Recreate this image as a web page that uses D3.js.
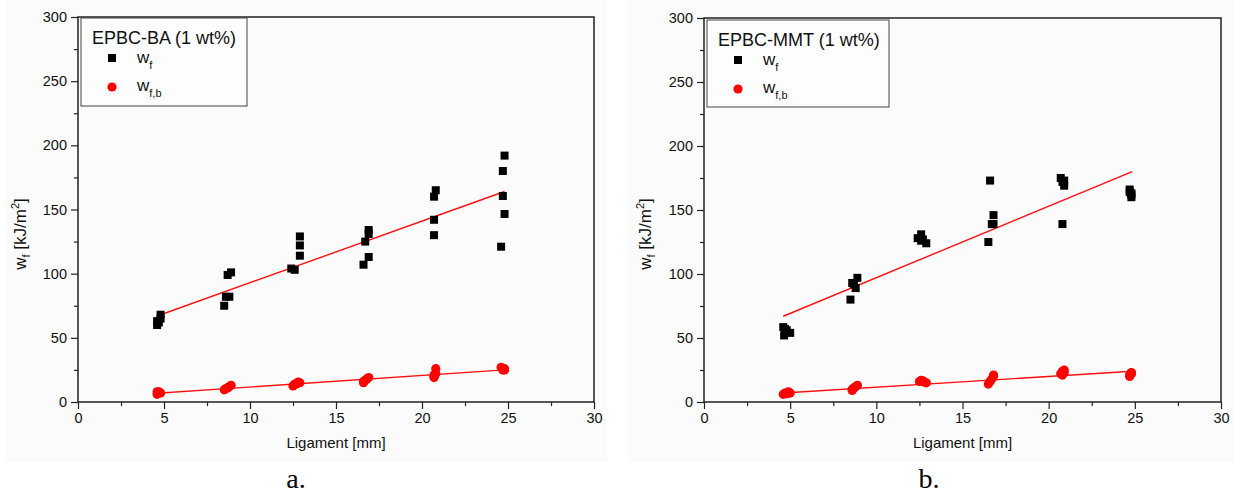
<!DOCTYPE html>
<html>
<head>
<meta charset="utf-8">
<script src="https://cdn.jsdelivr.net/npm/d3@7"></script>
<style>
  html, body { margin: 0; padding: 0; background: #ffffff; }
  svg { display: block; }
</style>
</head>
<body>
<svg id="chart" width="1234" height="493"></svg>
<script>
// ---------- DATA ----------
const xTicks = [0, 5, 10, 15, 20, 25, 30];
const xMinorTicks = [2.5, 7.5, 12.5, 17.5, 22.5, 27.5];
const yTicks = [0, 50, 100, 150, 200, 250, 300];
const yMinorTicks = [25, 75, 125, 175, 225, 275];

const panelTitles = ["EPBC-BA (1 wt%)", "EPBC-MMT (1 wt%)"];
const panelLabels = ["a.", "b."];

// Panel a: EPBC-BA
const aWfX  = [4.6, 4.7, 4.6, 4.8, 4.8, 8.5, 8.6, 8.8, 8.7, 8.9, 12.4, 12.6, 12.9, 12.9, 12.9, 16.6, 16.9, 16.7, 16.9, 16.9, 20.7, 20.7, 20.7, 20.8, 24.8, 24.7, 24.7, 24.8, 24.6];
const aWfY  = [60, 62, 63, 65, 68, 75, 82, 82, 99, 101, 104, 103, 114, 122, 129, 107, 113, 125, 131, 134, 130, 142, 160, 165, 192, 180, 160.5, 146.5, 121];
const aWfbX = [4.6, 4.7, 4.8, 4.6, 4.7, 8.5, 8.6, 8.7, 8.8, 8.9, 12.5, 12.6, 12.7, 12.8, 12.9, 16.6, 16.6, 16.7, 16.8, 16.9, 20.7, 20.7, 20.7, 20.8, 20.8, 24.6, 24.7, 24.7, 24.8, 24.8];
const aWfbY = [6, 7, 7, 8, 8, 9.5, 10.5, 11, 12, 13, 12.5, 14, 14, 15.5, 15, 15, 16, 17, 18, 19, 19, 20, 21, 22, 26, 27, 26, 25, 25, 26];
const aFitWfX  = [4.6, 24.8];
const aFitWfY  = [67, 164];
const aFitWfbX = [4.6, 24.8];
const aFitWfbY = [6.8, 25];

// Panel b: EPBC-MMT
const bWfX  = [4.6, 4.8, 4.65, 5.0, 4.7, 8.5, 8.6, 8.7, 8.8, 8.9, 12.4, 12.6, 12.6, 12.7, 12.9, 16.5, 16.6, 16.7, 16.8, 16.8, 20.7, 20.8, 20.8, 20.9, 20.9, 24.7, 24.7, 24.8, 24.8, 24.8];
const bWfY  = [58.5, 56, 52, 54, 57, 80, 93, 92, 89, 97, 128, 131, 126, 127, 124, 125, 173, 139, 146, 139, 175, 139, 172, 173, 169, 166, 164, 163, 162, 160];
const bWfbX = [4.6, 4.7, 4.8, 4.9, 5.0, 8.6, 8.6, 8.7, 8.8, 8.9, 12.5, 12.6, 12.7, 12.8, 12.9, 16.5, 16.6, 16.7, 16.8, 16.8, 20.7, 20.8, 20.8, 20.9, 20.9, 24.7, 24.7, 24.8, 24.8, 24.8];
const bWfbY = [6, 7, 6.5, 8, 7, 9, 10, 11, 12, 13, 16, 17, 16.5, 15.5, 15, 14, 16, 18, 20, 21, 22, 21, 24, 25, 23, 21, 20, 23, 22, 22.5];
const bFitWfX  = [4.6, 24.85];
const bFitWfY  = [67, 180];
const bFitWfbX = [4.6, 24.85];
const bFitWfbY = [7, 24];

// ---------- LAYOUT ----------
const SANS = "Arial, 'Liberation Sans', sans-serif";
const SERIF = "'Times New Roman', 'Liberation Serif', serif";
const panels = [
  { frame: { x0: 78, x1: 594, y0: 17, y1: 402 }, bg: [5, 0, 607, 462], legend: [81, 18, 247, 106], ytitleX: 26, label: [296, 488],
    title: panelTitles[0], tag: panelLabels[0],
    wf: [aWfX, aWfY], wfb: [aWfbX, aWfbY], fitWf: [aFitWfX, aFitWfY], fitWfb: [aFitWfbX, aFitWfbY] },
  { frame: { x0: 704, x1: 1221, y0: 18, y1: 402 }, bg: [628, 0, 1234, 462], legend: [707, 20, 889, 107], ytitleX: 651, label: [929, 488],
    title: panelTitles[1], tag: panelLabels[1],
    wf: [bWfX, bWfY], wfb: [bWfbX, bWfbY], fitWf: [bFitWfX, bFitWfY], fitWfb: [bFitWfbX, bFitWfbY] }
];

const svg = d3.select("#chart");
const zip = (xs, ys) => xs.map((x, i) => [x, ys[i]]);

panels.forEach(p => {
  const f = p.frame;
  const x = d3.scaleLinear().domain([0, 30]).range([f.x0, f.x1]);
  const y = d3.scaleLinear().domain([0, 300]).range([f.y1, f.y0]);
  const g = svg.append("g");

  g.append("rect").attr("x", p.bg[0]).attr("y", p.bg[1])
    .attr("width", p.bg[2] - p.bg[0]).attr("height", p.bg[3] - p.bg[1])
    .attr("fill", "#fbfbfb");

  // minor ticks
  g.append("g").attr("transform", `translate(0,${f.y1})`)
    .call(d3.axisBottom(x).tickValues(xMinorTicks).tickSize(4).tickFormat(""))
    .call(s => s.select(".domain").remove())
    .call(s => s.selectAll("line").attr("stroke", "#222").attr("stroke-width", 1.2));
  g.append("g").attr("transform", `translate(${f.x0},0)`)
    .call(d3.axisLeft(y).tickValues(yMinorTicks).tickSize(4).tickFormat(""))
    .call(s => s.select(".domain").remove())
    .call(s => s.selectAll("line").attr("stroke", "#222").attr("stroke-width", 1.2));

  // major axes
  const xa = g.append("g").attr("transform", `translate(0,${f.y1})`)
    .call(d3.axisBottom(x).tickValues(xTicks).tickSize(7).tickPadding(4).tickFormat(d3.format("d")));
  const ya = g.append("g").attr("transform", `translate(${f.x0},0)`)
    .call(d3.axisLeft(y).tickValues(yTicks).tickSize(7).tickPadding(4).tickFormat(d3.format("d")));
  [xa, ya].forEach(a => {
    a.select(".domain").remove();
    a.selectAll("line").attr("stroke", "#222").attr("stroke-width", 1.2);
    a.selectAll("text").attr("fill", "#111")
      .style("font-size", "14.5px").style("font-family", SANS);
  });

  // frame
  g.append("rect").attr("x", f.x0).attr("y", f.y0)
    .attr("width", f.x1 - f.x0).attr("height", f.y1 - f.y0)
    .attr("fill", "none").attr("stroke", "#222").attr("stroke-width", 1.5);

  // fit lines
  const line = d3.line().x(d => x(d[0])).y(d => y(d[1]));
  [p.fitWf, p.fitWfb].forEach(fl => {
    g.append("path").datum(zip(fl[0], fl[1])).attr("d", line)
      .attr("fill", "none").attr("stroke", "#ff1010").attr("stroke-width", 1.4);
  });

  // points
  const sq = 8;
  g.append("g").selectAll("rect").data(zip(p.wf[0], p.wf[1])).join("rect")
    .attr("x", d => x(d[0]) - sq / 2).attr("y", d => y(d[1]) - sq / 2)
    .attr("width", sq).attr("height", sq).attr("fill", "#000");
  g.append("g").selectAll("circle").data(zip(p.wfb[0], p.wfb[1])).join("circle")
    .attr("cx", d => x(d[0])).attr("cy", d => y(d[1])).attr("r", 4.6).attr("fill", "#ff0000");

  // axis titles
  g.append("text").attr("x", (f.x0 + f.x1) / 2).attr("y", 448)
    .attr("text-anchor", "middle").attr("fill", "#111")
    .style("font-size", "15px").style("font-family", SANS)
    .text("Ligament [mm]");
  const yt = g.append("text").attr("transform", `translate(${p.ytitleX},234) rotate(-90)`)
    .attr("text-anchor", "middle").attr("fill", "#111")
    .style("font-size", "17px").style("font-family", SANS);
  yt.append("tspan").text("w");
  yt.append("tspan").style("font-size", "11px").attr("dy", 4).text("f");
  yt.append("tspan").attr("dy", -4).text(" [kJ/m");
  yt.append("tspan").style("font-size", "11px").attr("dy", -7).text("2");
  yt.append("tspan").attr("dy", 7).text("]");

  // legend
  const L = p.legend;
  g.append("rect").attr("x", L[0]).attr("y", L[1]).attr("width", L[2] - L[0]).attr("height", L[3] - L[1])
    .attr("fill", "#fdfdfd").attr("stroke", "#444").attr("stroke-width", 1);
  g.append("text").attr("x", L[0] + 11).attr("y", L[1] + 26).attr("fill", "#111")
    .style("font-size", "18px").style("font-family", SANS).text(p.title);
  g.append("rect").attr("x", L[0] + 27).attr("y", L[1] + 36).attr("width", 8).attr("height", 8).attr("fill", "#000");
  g.append("circle").attr("cx", L[0] + 31).attr("cy", L[1] + 69).attr("r", 4.6).attr("fill", "#ff0000");
  const t1 = g.append("text").attr("x", L[0] + 56).attr("y", L[1] + 45).attr("fill", "#111")
    .style("font-size", "17px").style("font-family", SANS);
  t1.append("tspan").text("w");
  t1.append("tspan").style("font-size", "11px").attr("dy", 6).text("f");
  const t2 = g.append("text").attr("x", L[0] + 56).attr("y", L[1] + 73).attr("fill", "#111")
    .style("font-size", "17px").style("font-family", SANS);
  t2.append("tspan").text("w");
  t2.append("tspan").style("font-size", "11px").attr("dy", 6).text("f,b");

  // panel label
  svg.append("text").attr("x", p.label[0]).attr("y", p.label[1]).attr("text-anchor", "middle")
    .attr("fill", "#000").style("font-family", SERIF).style("font-size", "28px")
    .text(p.tag);
});
</script>
</body>
</html>
